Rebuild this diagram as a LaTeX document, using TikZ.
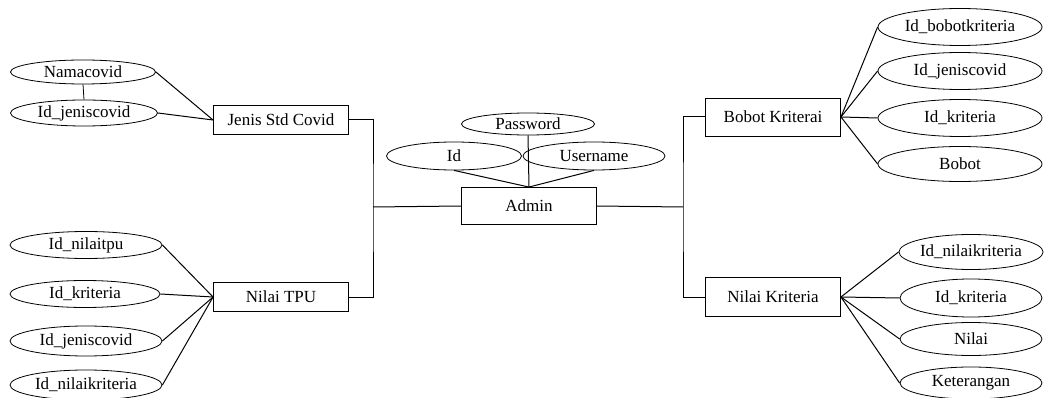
\documentclass[tikz,border=0pt]{standalone}
\usepackage{fontspec}
\setmainfont{Liberation Serif}
\usepackage{tikz}
\usetikzlibrary{shapes.geometric}

\tikzset{
  ent/.style={draw, line width=0.9pt, minimum width=135pt, minimum height=29pt, inner sep=1pt},
  attr/.style={draw, ellipse, line width=0.8pt, inner sep=0pt},
  lnk/.style={line width=1pt}
}

\begin{document}
\begin{tikzpicture}[x=1pt, y=-1pt, font=\fontsize{17}{19}\selectfont]
      \useasboundingbox (0, 0) rectangle (1044, 398);

      \node[ent] (Jenis) at (281, 120) {Jenis Std Covid};
      \node[ent] (Tpu) at (281, 297) {Nilai TPU};
      \node[ent, minimum height=37pt] (Admin) at (529, 206) {Admin};
      \node[ent, minimum height=38pt] (Bobot) at (773, 117) {Bobot Kriterai};
      \node[ent, minimum height=39pt] (NilaiK) at (773, 297) {Nilai Kriteria};

      \node[attr, minimum width=145pt, minimum height=24pt] (Nama) at (83, 72) {Namacovid};
      \node[attr, minimum width=147pt, minimum height=26pt] (JId) at (84, 113) {Id\_jeniscovid};
      \draw[lnk] (Nama.east) -- (Jenis.west);
      \draw[lnk] (JId.east) -- (Jenis.west);
      \draw[line width=0.8pt] (Nama.south) -- (JId.north);

      \node[attr, minimum width=152pt, minimum height=27pt] (TId) at (86, 245) {Id\_nilaitpu};
      \node[attr, minimum width=150pt, minimum height=27pt] (TKrit) at (85, 294) {Id\_kriteria};
      \node[attr, minimum width=152pt, minimum height=30pt] (TJen) at (86, 341) {Id\_jeniscovid};
      \node[attr, minimum width=152pt, minimum height=30pt] (TNk) at (86, 385) {Id\_nilaikriteria};
      \foreach \a in {TId, TKrit, TJen, TNk}
        \draw[lnk] (\a.east) -- (Tpu.west);

      \node[attr, minimum width=133pt, minimum height=22pt] (Pass) at (528, 124) {Password};
      \node[attr, minimum width=135pt, minimum height=28pt] (AId) at (454, 156) {Id};
      \node[attr, minimum width=142pt, minimum height=28pt] (User) at (594, 156) {Username};
      \draw[lnk] (AId.south) -- (Admin.north);
      \draw[lnk] (Pass.south) -- (Admin.north);
      \draw[lnk] (User.south) -- (Admin.north);

      \node[attr, minimum width=164pt, minimum height=37pt] (BId) at (960, 27) {Id\_bobotkriteria};
      \node[attr, minimum width=164pt, minimum height=37pt] (BJen) at (960, 71) {Id\_jeniscovid};
      \node[attr, minimum width=164pt, minimum height=37pt] (BKrit) at (960, 118) {Id\_kriteria};
      \node[attr, minimum width=164pt, minimum height=35pt] (BBob) at (960, 164) {Bobot};
      \foreach \a in {BId, BJen, BKrit, BBob}
        \draw[lnk] (Bobot.east) -- (\a.west);

      \node[attr, minimum width=142pt, minimum height=35pt] (NId) at (971, 252) {Id\_nilaikriteria};
      \node[attr, minimum width=142pt, minimum height=38pt] (NKrit) at (971, 298) {Id\_kriteria};
      \node[attr, minimum width=142pt, minimum height=33pt] (NNil) at (971, 339) {Nilai};
      \node[attr, minimum width=142pt, minimum height=32pt] (NKet) at (971, 383) {Keterangan};
      \foreach \a in {NId, NKrit, NNil, NKet}
        \draw[lnk] (NilaiK.east) -- (\a.west);

      \coordinate (BusL) at (373, 207);
      \coordinate (BusR) at (683, 207);
      \draw[lnk] (Jenis.east) -| (BusL) |- (Tpu.east);
      \draw[lnk] (BusL) -- (Admin.west);
      \draw[lnk] (Bobot.west) -| (BusR) |- (NilaiK.west);
      \draw[lnk] (Admin.east) -- (BusR);
    \end{tikzpicture}
\end{document}
